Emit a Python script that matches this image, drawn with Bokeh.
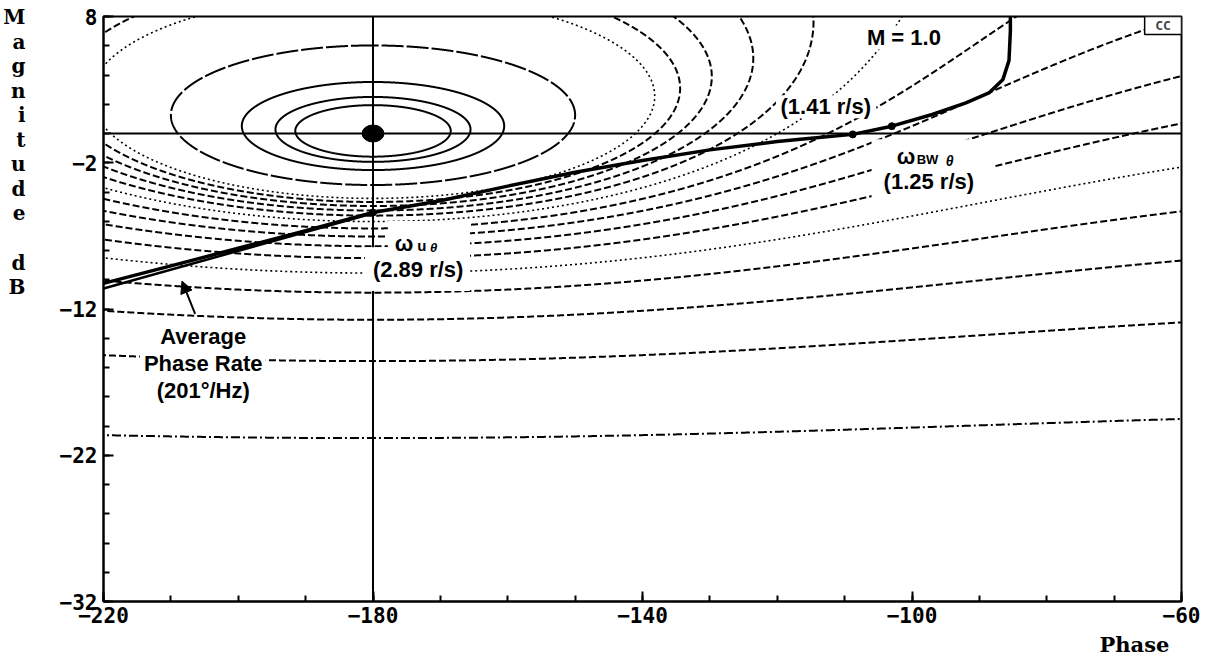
import numpy as np
from bokeh.plotting import figure
from bokeh.models import Range1d, FixedTicker, Span, Label, Arrow, NormalHead, LinearAxis
from bokeh.embed import file_html
from bokeh.resources import INLINE

# ---------------- data ----------------
# Nichols grid: closed-loop magnitude levels M (linear)
m_levels = [5.0, 4.0, 3.0, 2.0, 1.5, 1.4, 1.3, 1.2, 1.1, 1.0,
            0.9, 0.8, 0.7, 0.6, 0.5, 0.4, 0.3, 0.2, 0.1]
m_dash = {5.0: "solid", 4.0: "solid", 3.0: "solid", 2.0: "22 3",
          1.5: "2 3", 1.0: "2 3", 0.5: "2 3", 0.1: "9 3 2 3"}

# open-loop frequency response (phase deg, magnitude dB)
curve_phase = [-220, -210, -200, -190, -180, -170, -160, -150, -140, -130,
               -120, -115, -108.8, -103, -97, -92, -88.5, -86.5, -85.6, -85.4, -85.4]
curve_mag = [-10.25, -9.05, -7.85, -6.65, -5.4, -4.6, -3.6, -2.65, -1.85, -1.12,
             -0.55, -0.32, -0.06, 0.5, 1.3, 2.1, 2.8, 3.7, 5.0, 7.0, 8.0]

# average phase rate line
avg_phase = [-220, -180]
avg_mag = [-10.6, -5.45]

# marked frequencies
pt_phase = [-180.0, -108.8, -103.0]
pt_mag = [-5.4, -0.06, 0.5]
crit_phase = [-180.0]
crit_mag = [0.0]

x_ticks = [-220, -180, -140, -100, -60]
y_ticks = [8, -2, -12, -22, -32]
x_minor = list(range(-220, -59, 10))
y_minor = list(range(-32, 9, 2))

mag_letters = ["M", "a", "g", "n", "i", "t", "u", "d", "e", "", "d", "B"]
x_title = "Phase"

# ---------------- figure ----------------
FRAME_W, FRAME_H = 1078, 586
p = figure(width=1211, height=659, x_range=Range1d(-220, -60), y_range=Range1d(-32, 8),
           output_backend="svg", toolbar_location=None,
           min_border_left=103, min_border_right=30, min_border_top=16, min_border_bottom=56)
p.xgrid.visible = False
p.ygrid.visible = False
p.outline_line_color = "black"
p.outline_line_width = 2
p.background_fill_color = "white"

for ax in (p.xaxis[0], p.yaxis[0]):
    ax.axis_line_width = 2
    ax.axis_line_color = "black"
    ax.major_tick_in = 10
    ax.major_tick_out = 0
    ax.minor_tick_in = 6
    ax.minor_tick_out = 0
    ax.major_tick_line_width = 2
    ax.minor_tick_line_width = 2
    ax.major_tick_line_color = "black"
    ax.minor_tick_line_color = "black"
    ax.major_label_text_font = "DejaVu Sans Mono"
    ax.major_label_text_font_style = "bold"
    ax.major_label_text_font_size = "21px"
    ax.major_label_text_color = "black"
    ax.major_label_standoff = 6
p.xaxis[0].major_label_standoff = 5

p.xaxis.ticker = FixedTicker(ticks=x_ticks, minor_ticks=x_minor)
p.yaxis.ticker = FixedTicker(ticks=y_ticks, minor_ticks=y_minor)
p.xaxis.major_label_overrides = {t: ("\u2212%d" % abs(t)) for t in x_ticks}
p.yaxis.major_label_overrides = {t: (str(t) if t > 0 else "\u2212%d" % abs(t)) for t in y_ticks}

# stacked "Magnitude dB" title as an extra (label-only) axis
slot = 24.6
p.extra_y_ranges = {"slots": Range1d(start=-0.02 + FRAME_H / slot, end=-0.02)}
letter_ticks = [i for i, c in enumerate(mag_letters) if c]
ax_m = LinearAxis(y_range_name="slots",
                  ticker=FixedTicker(ticks=letter_ticks, minor_ticks=[]),
                  major_label_overrides={i: mag_letters[i] for i in letter_ticks},
                  axis_line_color=None, major_tick_line_color=None, minor_tick_line_color=None,
                  major_label_text_font="DejaVu Serif", major_label_text_font_style="bold",
                  major_label_text_font_size="20px", major_label_text_color="black",
                  major_label_standoff=25)
p.add_layout(ax_m, "left")

# "Phase" title as an extra (label-only) axis below
p.extra_x_ranges = {"px": Range1d(0, FRAME_W)}
ax_p = LinearAxis(x_range_name="px", ticker=FixedTicker(ticks=[1031], minor_ticks=[]),
                  major_label_overrides={1031: x_title},
                  axis_line_color=None, major_tick_line_color=None, minor_tick_line_color=None,
                  major_label_text_font="DejaVu Serif", major_label_text_font_style="bold",
                  major_label_text_font_size="21px", major_label_text_color="black",
                  major_label_standoff=0)
p.add_layout(ax_p, "below")

# reference lines (under everything)
p.add_layout(Span(location=-180, dimension="height", line_color="black", line_width=2, level="underlay"))
p.add_layout(Span(location=0, dimension="width", line_color="black", line_width=2, level="underlay"))

# Nichols grid contours
def nichols_contour(M, n=6000):
    th = np.linspace(1e-4, 2 * np.pi - 1e-4, n)
    T = M * np.exp(1j * th)
    G = T / (1 - T)
    mag = 20 * np.log10(np.abs(G))
    ph = np.degrees(np.angle(G))
    ph = np.where(ph > 0, ph - 360, ph)
    xs, ys = [ph[0]], [mag[0]]
    for i in range(1, n):
        if abs(ph[i] - ph[i - 1]) > 180:
            xs.append(np.nan)
            ys.append(np.nan)
        xs.append(ph[i])
        ys.append(mag[i])
    return np.array(xs), np.array(ys)

for M in m_levels:
    cx, cy = nichols_contour(M)
    dash = m_dash.get(M, "7 3")
    lw = 1.6 if dash == "2 3" else 2
    p.line(cx, cy, line_color="black", line_width=lw, line_dash=dash)

# white label backgrounds (cover grid lines as in the original)
bg_left = [-181.2, -177.8, -214.6, -120.2, -106.0, -108.0]
bg_right = [-165.6, -165.6, -195.9, -105.3, -87.7, -94.1]
bg_top = [-7.77, -5.99, -13.09, 2.61, -0.40, 7.39]
bg_bottom = [-10.77, -7.77, -18.48, 1.04, -4.36, 5.75]
p.quad(left=bg_left, right=bg_right, top=bg_top, bottom=bg_bottom,
       fill_color="white", line_color=None)

# response curve and average phase-rate line
p.line(avg_phase, avg_mag, line_color="black", line_width=2.5)
p.line(curve_phase, curve_mag, line_color="black", line_width=3.5)
p.scatter(pt_phase, pt_mag, size=7, color="black")
p.ellipse(x=crit_phase, y=crit_mag, width=22, height=17, width_units="screen",
          height_units="screen", fill_color="black", line_color="black")

# cc box
p.quad(left=[-65.47], right=[-60.0], top=[8.0], bottom=[6.77],
       fill_color="white", line_color="black", line_width=1.5)
p.add_layout(Label(x=-62.73, y=7.38, text="CC", text_font="DejaVu Sans Mono",
                   text_font_style="bold", text_font_size="13px",
                   text_align="center", text_baseline="middle"))

# annotations
def ann(x, y, txt, size="22px", style="bold", align="center", baseline="middle", font="Liberation Sans"):
    p.add_layout(Label(x=x, y=y, text=txt, text_font=font, text_font_style=style,
                       text_font_size=size, text_align=align, text_baseline=baseline,
                       text_color="black"))

ann(-101.2, 6.57, "M = 1.0")
ann(-112.8, 1.86, "(1.41 r/s)")
ann(-97.5, -3.26, "(1.25 r/s)")
ann(-100.9, -1.55, "\u03c9", size="22px", baseline="alphabetic")
ann(-97.7, -1.75, "BW", size="13px", baseline="alphabetic")
ann(-94.4, -1.9, "\u03b8", size="14px", style="bold italic", baseline="alphabetic")
ann(-175.4, -7.5, "\u03c9", size="22px", baseline="alphabetic")
ann(-172.75, -7.65, "u", size="15px", baseline="alphabetic")
ann(-171.0, -7.8, "\u03b8", size="13px", style="bold italic", baseline="alphabetic")
ann(-173.3, -9.27, "(2.89 r/s)")
ann(-205.2, -13.91, "Average")
ann(-205.2, -15.75, "Phase Rate")
ann(-205.2, -17.6, "(201\u00b0/Hz)")

p.add_layout(Arrow(end=NormalHead(size=12, fill_color="black", line_color="black"),
                   x_start=-206.4, y_start=-12.34, x_end=-208.35, y_end=-10.09,
                   line_color="black", line_width=2))

open("out.html", "w").write(file_html(p, INLINE))
